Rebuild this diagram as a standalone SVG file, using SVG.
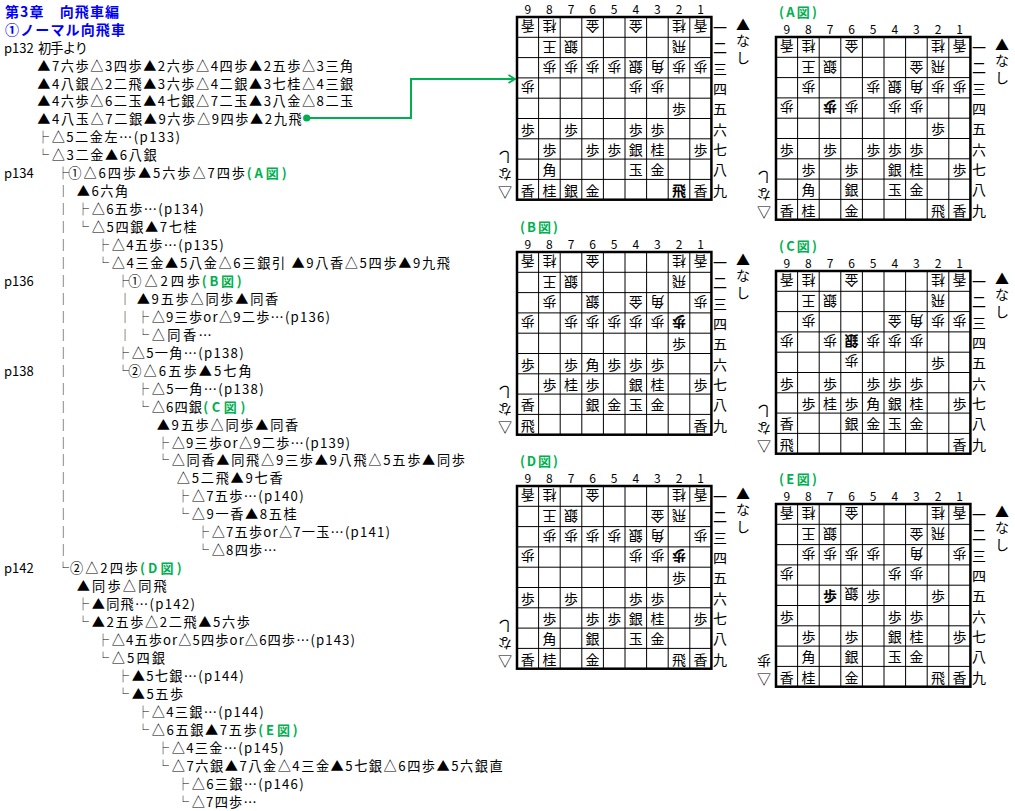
<svg xmlns="http://www.w3.org/2000/svg" xmlns:xlink="http://www.w3.org/1999/xlink" width="1015" height="811" viewBox="0 0 1015 811">
<style>
text{font-family:"Noto Sans CJK JP","Noto Sans CJK SC",sans-serif;fill:#000}
.t{font-size:13.2px}
.pg{font-size:13px}
.hd{font-size:14px;font-weight:bold;fill:#0000ff}
.gr{font-size:13px;font-weight:bold;fill:#00b050}
.tg{font-size:12px;text-anchor:middle}
.pc{font-size:14px;text-anchor:middle;dominant-baseline:central}
.bd{font-weight:bold}
.num{font-size:12px;text-anchor:middle}
.rl{font-size:14px;text-anchor:middle;dominant-baseline:central}
.grid{fill:none;stroke:#000;stroke-width:1}
.outer{fill:none;stroke:#000;stroke-width:2.5}
.conn{fill:none;stroke:#00b050;stroke-width:2}
</style>
<defs>
<g id="grid"><path class="grid" d="M21.6 0V182.7M43.2 0V182.7M64.8 0V182.7M86.4 0V182.7M108 0V182.7M129.6 0V182.7M151.2 0V182.7M172.8 0V182.7M0 20.3H194.4M0 40.6H194.4M0 60.9H194.4M0 81.2H194.4M0 101.5H194.4M0 121.8H194.4M0 142.1H194.4M0 162.4H194.4"/><rect class="outer" x="0" y="0" width="194.4" height="182.7"/></g>
<marker id="dot" markerWidth="8" markerHeight="8" refX="4" refY="4" markerUnits="userSpaceOnUse"><circle cx="4" cy="4" r="3.6" fill="#00b050"/></marker>
<marker id="arr" markerWidth="10" markerHeight="10" refX="8" refY="5" orient="auto" markerUnits="userSpaceOnUse"><path d="M1.5 1L8 5L1.5 9" fill="none" stroke="#00b050" stroke-width="1.8"/></marker>
</defs>
<rect width="1015" height="811" fill="#fff"/>

<g id="tree">
<g id="l0"><text class="hd" x="5" y="17" textLength="114" lengthAdjust="spacing">第3章　向飛車編</text></g>
<g id="l1"><text class="hd" x="5" y="35" textLength="120" lengthAdjust="spacing">①ノーマル向飛車</text></g>
<g id="l2"><text class="pg" x="4" y="52.6">p132</text><text class="t" x="38" y="52.6" textLength="50" lengthAdjust="spacing">初手より</text></g>
<g id="l3"><text class="t" x="37.3" y="70.55" textLength="316" lengthAdjust="spacing">▲7六歩△3四歩▲2六歩△4四歩▲2五歩△3三角</text></g>
<g id="l4"><text class="t" x="37.3" y="88.5" textLength="316" lengthAdjust="spacing">▲4八銀△2二飛▲3六歩△4二銀▲3七桂△4三銀</text></g>
<g id="l5"><text class="t" x="37.3" y="106.45" textLength="316" lengthAdjust="spacing">▲4六歩△6二玉▲4七銀△7二玉▲3八金△8二玉</text></g>
<g id="l6"><text class="t" x="37.3" y="124.4" textLength="264.4" lengthAdjust="spacing">▲4八玉△7二銀▲9六歩△9四歩▲2九飛</text></g>
<g id="l7"><text class="tg" x="42.9" y="142.35">├</text><text class="t" x="51.7" y="142.35" textLength="128.3" lengthAdjust="spacing">△5二金左…(p133)</text></g>
<g id="l8"><text class="tg" x="42.9" y="160.3">└</text><text class="t" x="51.7" y="160.3" textLength="105" lengthAdjust="spacing">△3二金▲6八銀</text></g>
<g id="l9"><text class="pg" x="4" y="178.25">p134</text><text class="tg" x="62.9" y="178.25">├</text><text class="t" x="68.3" y="178.25" textLength="176.7" lengthAdjust="spacing">①△6四歩▲5六歩△7四歩</text><text class="gr" x="246.7" y="178.25" textLength="40" lengthAdjust="spacing">(A図)</text></g>
<g id="l10"><text class="tg" x="63.3" y="196.2">│</text><text class="t" x="76.7" y="196.2" textLength="51.6" lengthAdjust="spacing">▲6六角</text></g>
<g id="l11"><text class="tg" x="63.3" y="214.15">│</text><text class="tg" x="82.9" y="214.15">├</text><text class="t" x="91.7" y="214.15" textLength="112" lengthAdjust="spacing">△6五歩…(p134)</text></g>
<g id="l12"><text class="tg" x="63.3" y="232.1">│</text><text class="tg" x="82.9" y="232.1">└</text><text class="t" x="91.7" y="232.1" textLength="105" lengthAdjust="spacing">△5四銀▲7七桂</text></g>
<g id="l13"><text class="tg" x="63.3" y="250.05">│</text><text class="tg" x="102.9" y="250.05">├</text><text class="t" x="111.7" y="250.05" textLength="112" lengthAdjust="spacing">△4五歩…(p135)</text></g>
<g id="l14"><text class="tg" x="63.3" y="268">│</text><text class="tg" x="102.9" y="268">└</text><text class="t" x="111.7" y="268" textLength="338.3" lengthAdjust="spacing">△4三金▲5八金△6三銀引 ▲9八香△5四歩▲9九飛</text></g>
<g id="l15"><text class="pg" x="4" y="285.95">p136</text><text class="tg" x="63.3" y="285.95">│</text><text class="tg" x="122.9" y="285.95">├</text><text class="t" x="128.3" y="285.95" textLength="71.7" lengthAdjust="spacing">①△2四歩</text><text class="gr" x="201.7" y="285.95" textLength="40" lengthAdjust="spacing">(B図)</text></g>
<g id="l16"><text class="tg" x="63.3" y="303.9">│</text><text class="tg" x="125" y="303.9">│</text><text class="t" x="136.7" y="303.9" textLength="141.6" lengthAdjust="spacing">▲9五歩△同歩▲同香</text></g>
<g id="l17"><text class="tg" x="63.3" y="321.85">│</text><text class="tg" x="125" y="321.85">│</text><text class="tg" x="142.9" y="321.85">├</text><text class="t" x="151.7" y="321.85" textLength="178.3" lengthAdjust="spacing">△9三歩or△9二歩…(p136)</text></g>
<g id="l18"><text class="tg" x="63.3" y="339.8">│</text><text class="tg" x="125" y="339.8">│</text><text class="tg" x="142.9" y="339.8">└</text><text class="t" x="151.7" y="339.8" textLength="60" lengthAdjust="spacing">△同香…</text></g>
<g id="l19"><text class="tg" x="63.3" y="357.75">│</text><text class="tg" x="122.9" y="357.75">├</text><text class="t" x="131.7" y="357.75" textLength="112" lengthAdjust="spacing">△5一角…(p138)</text></g>
<g id="l20"><text class="pg" x="4" y="375.7">p138</text><text class="tg" x="63.3" y="375.7">│</text><text class="tg" x="122.9" y="375.7">└</text><text class="t" x="128.3" y="375.7" textLength="123.4" lengthAdjust="spacing">②△6五歩▲5七角</text></g>
<g id="l21"><text class="tg" x="63.3" y="393.65">│</text><text class="tg" x="142.9" y="393.65">├</text><text class="t" x="151.7" y="393.65" textLength="112" lengthAdjust="spacing">△5一角…(p138)</text></g>
<g id="l22"><text class="tg" x="63.3" y="411.6">│</text><text class="tg" x="142.9" y="411.6">└</text><text class="t" x="151.7" y="411.6" textLength="50.3" lengthAdjust="spacing">△6四銀</text><text class="gr" x="203.3" y="411.6" textLength="42" lengthAdjust="spacing">(C図)</text></g>
<g id="l23"><text class="tg" x="63.3" y="429.55">│</text><text class="t" x="156.7" y="429.55" textLength="141.6" lengthAdjust="spacing">▲9五歩△同歩▲同香</text></g>
<g id="l24"><text class="tg" x="63.3" y="447.5">│</text><text class="tg" x="162.9" y="447.5">├</text><text class="t" x="171.7" y="447.5" textLength="178.3" lengthAdjust="spacing">△9三歩or△9二歩…(p139)</text></g>
<g id="l25"><text class="tg" x="63.3" y="465.45">│</text><text class="tg" x="162.9" y="465.45">└</text><text class="t" x="171.7" y="465.45" textLength="293.3" lengthAdjust="spacing">△同香▲同飛△9三歩▲9八飛△5五歩▲同歩</text></g>
<g id="l26"><text class="tg" x="63.3" y="483.4">│</text><text class="t" x="176.7" y="483.4" textLength="106" lengthAdjust="spacing">△5二飛▲9七香</text></g>
<g id="l27"><text class="tg" x="63.3" y="501.35">│</text><text class="tg" x="182.9" y="501.35">├</text><text class="t" x="191.7" y="501.35" textLength="112" lengthAdjust="spacing">△7五歩…(p140)</text></g>
<g id="l28"><text class="tg" x="63.3" y="519.3">│</text><text class="tg" x="182.9" y="519.3">└</text><text class="t" x="191.7" y="519.3" textLength="105" lengthAdjust="spacing">△9一香▲8五桂</text></g>
<g id="l29"><text class="tg" x="63.3" y="537.25">│</text><text class="tg" x="202.9" y="537.25">├</text><text class="t" x="211.7" y="537.25" textLength="178.3" lengthAdjust="spacing">△7五歩or△7一玉…(p141)</text></g>
<g id="l30"><text class="tg" x="63.3" y="555.2">│</text><text class="tg" x="202.9" y="555.2">└</text><text class="t" x="211.7" y="555.2" textLength="65" lengthAdjust="spacing">△8四歩…</text></g>
<g id="l31"><text class="pg" x="4" y="573.15">p142</text><text class="tg" x="62.9" y="573.15">└</text><text class="t" x="70" y="573.15" textLength="68" lengthAdjust="spacing">②△2四歩</text><text class="gr" x="140" y="573.15" textLength="41.7" lengthAdjust="spacing">(D図)</text></g>
<g id="l32"><text class="t" x="76.7" y="591.1" textLength="90" lengthAdjust="spacing">▲同歩△同飛</text></g>
<g id="l33"><text class="tg" x="82.9" y="609.05">├</text><text class="t" x="91.7" y="609.05" textLength="103.3" lengthAdjust="spacing">▲同飛…(p142)</text></g>
<g id="l34"><text class="tg" x="82.9" y="627">└</text><text class="t" x="91.7" y="627" textLength="158.3" lengthAdjust="spacing">▲2五歩△2二飛▲5六歩</text></g>
<g id="l35"><text class="tg" x="102.9" y="644.95">├</text><text class="t" x="111.7" y="644.95" textLength="243.3" lengthAdjust="spacing">△4五歩or△5四歩or△6四歩…(p143)</text></g>
<g id="l36"><text class="tg" x="102.9" y="662.9">└</text><text class="t" x="111.7" y="662.9" textLength="53.3" lengthAdjust="spacing">△5四銀</text></g>
<g id="l37"><text class="tg" x="122.9" y="680.85">├</text><text class="t" x="131.7" y="680.85" textLength="112" lengthAdjust="spacing">▲5七銀…(p144)</text></g>
<g id="l38"><text class="tg" x="122.9" y="698.8">└</text><text class="t" x="131.7" y="698.8" textLength="51.6" lengthAdjust="spacing">▲5五歩</text></g>
<g id="l39"><text class="tg" x="142.9" y="716.75">├</text><text class="t" x="151.7" y="716.75" textLength="112" lengthAdjust="spacing">△4三銀…(p144)</text></g>
<g id="l40"><text class="tg" x="142.9" y="734.7">└</text><text class="t" x="151.7" y="734.7" textLength="105" lengthAdjust="spacing">△6五銀▲7五歩</text><text class="gr" x="258.3" y="734.7" textLength="39.4" lengthAdjust="spacing">(E図)</text></g>
<g id="l41"><text class="tg" x="162.9" y="752.65">├</text><text class="t" x="171.7" y="752.65" textLength="112" lengthAdjust="spacing">△4三金…(p145)</text></g>
<g id="l42"><text class="tg" x="162.9" y="770.6">└</text><text class="t" x="171.7" y="770.6" textLength="331" lengthAdjust="spacing">△7六銀▲7八金△4三金▲5七銀△6四歩▲5六銀直</text></g>
<g id="l43"><text class="tg" x="182.9" y="788.55">├</text><text class="t" x="191.7" y="788.55" textLength="112" lengthAdjust="spacing">△6三銀…(p146)</text></g>
<g id="l44"><text class="tg" x="182.9" y="806.5">└</text><text class="t" x="191.7" y="806.5" textLength="65" lengthAdjust="spacing">△7四歩…</text></g>
</g>

<g id="connectors">
<path class="conn" d="M306.7 118H411V79H515" marker-start="url(#dot)" marker-end="url(#arr)"/>
</g>

<g id="board-main" transform="translate(517 17)">
<use xlink:href="#grid" href="#grid"/>
<text class="num" x="10.8 32.4 54 75.6 97.2 118.8 140.4 162 183.6" y="-3">987654321</text>
<text class="rl" x="203 203 203 203 203 203 203 203 203" y="10.15 30.45 50.75 71.05 91.35 111.65 131.95 152.25 172.55">一二三四五六七八九</text>
<text class="rl" x="226 226 226" y="7 23 40">▲なし</text>
<text class="rl" x="-12" y="174">▽</text><text class="rl" transform="translate(-12 158) rotate(180)">な</text><text class="rl" transform="translate(-12 141) rotate(180)">し</text>
<text class="pc" transform="translate(10.8 10.2) rotate(180)">香</text><text class="pc" transform="translate(32.4 10.2) rotate(180)">桂</text><text class="pc" transform="translate(75.6 10.2) rotate(180)">金</text><text class="pc" transform="translate(118.8 10.2) rotate(180)">金</text><text class="pc" transform="translate(162 10.2) rotate(180)">桂</text><text class="pc" transform="translate(183.6 10.2) rotate(180)">香</text>
<text class="pc" transform="translate(32.4 30.5) rotate(180)">王</text><text class="pc" transform="translate(54 30.5) rotate(180)">銀</text><text class="pc" transform="translate(162 30.5) rotate(180)">飛</text>
<text class="pc" transform="translate(32.4 50.8) rotate(180)">歩</text><text class="pc" transform="translate(54 50.8) rotate(180)">歩</text><text class="pc" transform="translate(75.6 50.8) rotate(180)">歩</text><text class="pc" transform="translate(97.2 50.8) rotate(180)">歩</text><text class="pc" transform="translate(118.8 50.8) rotate(180)">銀</text><text class="pc" transform="translate(140.4 50.8) rotate(180)">角</text><text class="pc" transform="translate(162 50.8) rotate(180)">歩</text><text class="pc" transform="translate(183.6 50.8) rotate(180)">歩</text>
<text class="pc" transform="translate(10.8 71.1) rotate(180)">歩</text><text class="pc" transform="translate(118.8 71.1) rotate(180)">歩</text><text class="pc" transform="translate(140.4 71.1) rotate(180)">歩</text>
<text class="pc" x="162" y="91.4">歩</text>
<text class="pc" x="10.8" y="111.7">歩</text><text class="pc" x="54" y="111.7">歩</text><text class="pc" x="118.8" y="111.7">歩</text><text class="pc" x="140.4" y="111.7">歩</text>
<text class="pc" x="32.4" y="132">歩</text><text class="pc" x="75.6" y="132">歩</text><text class="pc" x="97.2" y="132">歩</text><text class="pc" x="118.8" y="132">銀</text><text class="pc" x="140.4" y="132">桂</text><text class="pc" x="183.6" y="132">歩</text>
<text class="pc" x="32.4" y="152.3">角</text><text class="pc" x="118.8" y="152.3">玉</text><text class="pc" x="140.4" y="152.3">金</text>
<text class="pc" x="10.8" y="172.6">香</text><text class="pc" x="32.4" y="172.6">桂</text><text class="pc" x="54" y="172.6">銀</text><text class="pc" x="75.6" y="172.6">金</text><text class="pc bd" x="162" y="172.6">飛</text><text class="pc" x="183.6" y="172.6">香</text>
</g>

<g id="board-A" transform="translate(776 37)">
<text class="gr" x="3" y="-20" textLength="38" lengthAdjust="spacing">(A図)</text>
<use xlink:href="#grid" href="#grid"/>
<text class="num" x="10.8 32.4 54 75.6 97.2 118.8 140.4 162 183.6" y="-3">987654321</text>
<text class="rl" x="203 203 203 203 203 203 203 203 203" y="10.15 30.45 50.75 71.05 91.35 111.65 131.95 152.25 172.55">一二三四五六七八九</text>
<text class="rl" x="226 226 226" y="7 23 40">▲なし</text>
<text class="rl" x="-12" y="174">▽</text><text class="rl" transform="translate(-12 158) rotate(180)">な</text><text class="rl" transform="translate(-12 141) rotate(180)">し</text>
<text class="pc" transform="translate(10.8 10.2) rotate(180)">香</text><text class="pc" transform="translate(32.4 10.2) rotate(180)">桂</text><text class="pc" transform="translate(75.6 10.2) rotate(180)">金</text><text class="pc" transform="translate(162 10.2) rotate(180)">桂</text><text class="pc" transform="translate(183.6 10.2) rotate(180)">香</text>
<text class="pc" transform="translate(32.4 30.5) rotate(180)">王</text><text class="pc" transform="translate(54 30.5) rotate(180)">銀</text><text class="pc" transform="translate(140.4 30.5) rotate(180)">金</text><text class="pc" transform="translate(162 30.5) rotate(180)">飛</text>
<text class="pc" transform="translate(32.4 50.8) rotate(180)">歩</text><text class="pc" transform="translate(97.2 50.8) rotate(180)">歩</text><text class="pc" transform="translate(118.8 50.8) rotate(180)">銀</text><text class="pc" transform="translate(140.4 50.8) rotate(180)">角</text><text class="pc" transform="translate(162 50.8) rotate(180)">歩</text><text class="pc" transform="translate(183.6 50.8) rotate(180)">歩</text>
<text class="pc" transform="translate(10.8 71.1) rotate(180)">歩</text><text class="pc bd" transform="translate(54 71.1) rotate(180)">歩</text><text class="pc" transform="translate(75.6 71.1) rotate(180)">歩</text><text class="pc" transform="translate(118.8 71.1) rotate(180)">歩</text><text class="pc" transform="translate(140.4 71.1) rotate(180)">歩</text>
<text class="pc" x="162" y="91.4">歩</text>
<text class="pc" x="10.8" y="111.7">歩</text><text class="pc" x="54" y="111.7">歩</text><text class="pc" x="97.2" y="111.7">歩</text><text class="pc" x="118.8" y="111.7">歩</text><text class="pc" x="140.4" y="111.7">歩</text>
<text class="pc" x="32.4" y="132">歩</text><text class="pc" x="75.6" y="132">歩</text><text class="pc" x="118.8" y="132">銀</text><text class="pc" x="140.4" y="132">桂</text><text class="pc" x="183.6" y="132">歩</text>
<text class="pc" x="32.4" y="152.3">角</text><text class="pc" x="75.6" y="152.3">銀</text><text class="pc" x="118.8" y="152.3">玉</text><text class="pc" x="140.4" y="152.3">金</text>
<text class="pc" x="10.8" y="172.6">香</text><text class="pc" x="32.4" y="172.6">桂</text><text class="pc" x="75.6" y="172.6">金</text><text class="pc" x="162" y="172.6">飛</text><text class="pc" x="183.6" y="172.6">香</text>
</g>

<g id="board-B" transform="translate(517 252)">
<text class="gr" x="3" y="-20" textLength="38" lengthAdjust="spacing">(B図)</text>
<use xlink:href="#grid" href="#grid"/>
<text class="num" x="10.8 32.4 54 75.6 97.2 118.8 140.4 162 183.6" y="-3">987654321</text>
<text class="rl" x="203 203 203 203 203 203 203 203 203" y="10.15 30.45 50.75 71.05 91.35 111.65 131.95 152.25 172.55">一二三四五六七八九</text>
<text class="rl" x="226 226 226" y="7 23 40">▲なし</text>
<text class="rl" x="-12" y="174">▽</text><text class="rl" transform="translate(-12 158) rotate(180)">な</text><text class="rl" transform="translate(-12 141) rotate(180)">し</text>
<text class="pc" transform="translate(10.8 10.2) rotate(180)">香</text><text class="pc" transform="translate(32.4 10.2) rotate(180)">桂</text><text class="pc" transform="translate(75.6 10.2) rotate(180)">金</text><text class="pc" transform="translate(162 10.2) rotate(180)">桂</text><text class="pc" transform="translate(183.6 10.2) rotate(180)">香</text>
<text class="pc" transform="translate(32.4 30.5) rotate(180)">王</text><text class="pc" transform="translate(54 30.5) rotate(180)">銀</text><text class="pc" transform="translate(162 30.5) rotate(180)">飛</text>
<text class="pc" transform="translate(32.4 50.8) rotate(180)">歩</text><text class="pc" transform="translate(75.6 50.8) rotate(180)">銀</text><text class="pc" transform="translate(118.8 50.8) rotate(180)">金</text><text class="pc" transform="translate(140.4 50.8) rotate(180)">角</text><text class="pc" transform="translate(183.6 50.8) rotate(180)">歩</text>
<text class="pc" transform="translate(10.8 71.1) rotate(180)">歩</text><text class="pc" transform="translate(54 71.1) rotate(180)">歩</text><text class="pc" transform="translate(75.6 71.1) rotate(180)">歩</text><text class="pc" transform="translate(97.2 71.1) rotate(180)">歩</text><text class="pc" transform="translate(118.8 71.1) rotate(180)">歩</text><text class="pc" transform="translate(140.4 71.1) rotate(180)">歩</text><text class="pc bd" transform="translate(162 71.1) rotate(180)">歩</text>
<text class="pc" x="162" y="91.4">歩</text>
<text class="pc" x="10.8" y="111.7">歩</text><text class="pc" x="54" y="111.7">歩</text><text class="pc" x="75.6" y="111.7">角</text><text class="pc" x="97.2" y="111.7">歩</text><text class="pc" x="118.8" y="111.7">歩</text><text class="pc" x="140.4" y="111.7">歩</text>
<text class="pc" x="32.4" y="132">歩</text><text class="pc" x="54" y="132">桂</text><text class="pc" x="75.6" y="132">歩</text><text class="pc" x="118.8" y="132">銀</text><text class="pc" x="140.4" y="132">桂</text><text class="pc" x="183.6" y="132">歩</text>
<text class="pc" x="10.8" y="152.3">香</text><text class="pc" x="75.6" y="152.3">銀</text><text class="pc" x="97.2" y="152.3">金</text><text class="pc" x="118.8" y="152.3">玉</text><text class="pc" x="140.4" y="152.3">金</text>
<text class="pc" x="10.8" y="172.6">飛</text><text class="pc" x="183.6" y="172.6">香</text>
</g>

<g id="board-C" transform="translate(776 271)">
<text class="gr" x="3" y="-20" textLength="38" lengthAdjust="spacing">(C図)</text>
<use xlink:href="#grid" href="#grid"/>
<text class="num" x="10.8 32.4 54 75.6 97.2 118.8 140.4 162 183.6" y="-3">987654321</text>
<text class="rl" x="203 203 203 203 203 203 203 203 203" y="10.15 30.45 50.75 71.05 91.35 111.65 131.95 152.25 172.55">一二三四五六七八九</text>
<text class="rl" x="226 226 226" y="7 23 40">▲なし</text>
<text class="rl" x="-12" y="174">▽</text><text class="rl" transform="translate(-12 158) rotate(180)">な</text><text class="rl" transform="translate(-12 141) rotate(180)">し</text>
<text class="pc" transform="translate(10.8 10.2) rotate(180)">香</text><text class="pc" transform="translate(32.4 10.2) rotate(180)">桂</text><text class="pc" transform="translate(75.6 10.2) rotate(180)">金</text><text class="pc" transform="translate(162 10.2) rotate(180)">桂</text><text class="pc" transform="translate(183.6 10.2) rotate(180)">香</text>
<text class="pc" transform="translate(32.4 30.5) rotate(180)">王</text><text class="pc" transform="translate(54 30.5) rotate(180)">銀</text><text class="pc" transform="translate(162 30.5) rotate(180)">飛</text>
<text class="pc" transform="translate(32.4 50.8) rotate(180)">歩</text><text class="pc" transform="translate(118.8 50.8) rotate(180)">金</text><text class="pc" transform="translate(140.4 50.8) rotate(180)">角</text><text class="pc" transform="translate(162 50.8) rotate(180)">歩</text><text class="pc" transform="translate(183.6 50.8) rotate(180)">歩</text>
<text class="pc" transform="translate(10.8 71.1) rotate(180)">歩</text><text class="pc" transform="translate(54 71.1) rotate(180)">歩</text><text class="pc bd" transform="translate(75.6 71.1) rotate(180)">銀</text><text class="pc" transform="translate(97.2 71.1) rotate(180)">歩</text><text class="pc" transform="translate(118.8 71.1) rotate(180)">歩</text><text class="pc" transform="translate(140.4 71.1) rotate(180)">歩</text>
<text class="pc" transform="translate(75.6 91.4) rotate(180)">歩</text>
<text class="pc" x="162" y="91.4">歩</text>
<text class="pc" x="10.8" y="111.7">歩</text><text class="pc" x="54" y="111.7">歩</text><text class="pc" x="97.2" y="111.7">歩</text><text class="pc" x="118.8" y="111.7">歩</text><text class="pc" x="140.4" y="111.7">歩</text>
<text class="pc" x="32.4" y="132">歩</text><text class="pc" x="54" y="132">桂</text><text class="pc" x="75.6" y="132">歩</text><text class="pc" x="97.2" y="132">角</text><text class="pc" x="118.8" y="132">銀</text><text class="pc" x="140.4" y="132">桂</text><text class="pc" x="183.6" y="132">歩</text>
<text class="pc" x="10.8" y="152.3">香</text><text class="pc" x="75.6" y="152.3">銀</text><text class="pc" x="97.2" y="152.3">金</text><text class="pc" x="118.8" y="152.3">玉</text><text class="pc" x="140.4" y="152.3">金</text>
<text class="pc" x="10.8" y="172.6">飛</text><text class="pc" x="183.6" y="172.6">香</text>
</g>

<g id="board-D" transform="translate(517 486)">
<text class="gr" x="3" y="-20" textLength="38" lengthAdjust="spacing">(D図)</text>
<use xlink:href="#grid" href="#grid"/>
<text class="num" x="10.8 32.4 54 75.6 97.2 118.8 140.4 162 183.6" y="-3">987654321</text>
<text class="rl" x="203 203 203 203 203 203 203 203 203" y="10.15 30.45 50.75 71.05 91.35 111.65 131.95 152.25 172.55">一二三四五六七八九</text>
<text class="rl" x="226 226 226" y="7 23 40">▲なし</text>
<text class="rl" x="-12" y="174">▽</text><text class="rl" transform="translate(-12 158) rotate(180)">な</text><text class="rl" transform="translate(-12 141) rotate(180)">し</text>
<text class="pc" transform="translate(10.8 10.2) rotate(180)">香</text><text class="pc" transform="translate(32.4 10.2) rotate(180)">桂</text><text class="pc" transform="translate(75.6 10.2) rotate(180)">金</text><text class="pc" transform="translate(162 10.2) rotate(180)">桂</text><text class="pc" transform="translate(183.6 10.2) rotate(180)">香</text>
<text class="pc" transform="translate(32.4 30.5) rotate(180)">王</text><text class="pc" transform="translate(54 30.5) rotate(180)">銀</text><text class="pc" transform="translate(140.4 30.5) rotate(180)">金</text><text class="pc" transform="translate(162 30.5) rotate(180)">飛</text>
<text class="pc" transform="translate(32.4 50.8) rotate(180)">歩</text><text class="pc" transform="translate(54 50.8) rotate(180)">歩</text><text class="pc" transform="translate(75.6 50.8) rotate(180)">歩</text><text class="pc" transform="translate(97.2 50.8) rotate(180)">歩</text><text class="pc" transform="translate(118.8 50.8) rotate(180)">銀</text><text class="pc" transform="translate(140.4 50.8) rotate(180)">角</text><text class="pc" transform="translate(183.6 50.8) rotate(180)">歩</text>
<text class="pc" transform="translate(10.8 71.1) rotate(180)">歩</text><text class="pc" transform="translate(118.8 71.1) rotate(180)">歩</text><text class="pc" transform="translate(140.4 71.1) rotate(180)">歩</text><text class="pc bd" transform="translate(162 71.1) rotate(180)">歩</text>
<text class="pc" x="162" y="91.4">歩</text>
<text class="pc" x="10.8" y="111.7">歩</text><text class="pc" x="54" y="111.7">歩</text><text class="pc" x="118.8" y="111.7">歩</text><text class="pc" x="140.4" y="111.7">歩</text>
<text class="pc" x="32.4" y="132">歩</text><text class="pc" x="75.6" y="132">歩</text><text class="pc" x="97.2" y="132">歩</text><text class="pc" x="118.8" y="132">銀</text><text class="pc" x="140.4" y="132">桂</text><text class="pc" x="183.6" y="132">歩</text>
<text class="pc" x="32.4" y="152.3">角</text><text class="pc" x="75.6" y="152.3">銀</text><text class="pc" x="118.8" y="152.3">玉</text><text class="pc" x="140.4" y="152.3">金</text>
<text class="pc" x="10.8" y="172.6">香</text><text class="pc" x="32.4" y="172.6">桂</text><text class="pc" x="75.6" y="172.6">金</text><text class="pc" x="162" y="172.6">飛</text><text class="pc" x="183.6" y="172.6">香</text>
</g>

<g id="board-E" transform="translate(776 504)">
<text class="gr" x="3" y="-20" textLength="38" lengthAdjust="spacing">(E図)</text>
<use xlink:href="#grid" href="#grid"/>
<text class="num" x="10.8 32.4 54 75.6 97.2 118.8 140.4 162 183.6" y="-3">987654321</text>
<text class="rl" x="203 203 203 203 203 203 203 203 203" y="10.15 30.45 50.75 71.05 91.35 111.65 131.95 152.25 172.55">一二三四五六七八九</text>
<text class="rl" x="226 226 226" y="7 23 40">▲なし</text>
<text class="rl" x="-12" y="174">▽</text><text class="rl" transform="translate(-12 158) rotate(180)">歩</text>
<text class="pc" transform="translate(10.8 10.2) rotate(180)">香</text><text class="pc" transform="translate(32.4 10.2) rotate(180)">桂</text><text class="pc" transform="translate(75.6 10.2) rotate(180)">金</text><text class="pc" transform="translate(162 10.2) rotate(180)">桂</text><text class="pc" transform="translate(183.6 10.2) rotate(180)">香</text>
<text class="pc" transform="translate(32.4 30.5) rotate(180)">王</text><text class="pc" transform="translate(54 30.5) rotate(180)">銀</text><text class="pc" transform="translate(140.4 30.5) rotate(180)">金</text><text class="pc" transform="translate(162 30.5) rotate(180)">飛</text>
<text class="pc" transform="translate(32.4 50.8) rotate(180)">歩</text><text class="pc" transform="translate(54 50.8) rotate(180)">歩</text><text class="pc" transform="translate(75.6 50.8) rotate(180)">歩</text><text class="pc" transform="translate(97.2 50.8) rotate(180)">歩</text><text class="pc" transform="translate(140.4 50.8) rotate(180)">角</text><text class="pc" transform="translate(183.6 50.8) rotate(180)">歩</text>
<text class="pc" transform="translate(10.8 71.1) rotate(180)">歩</text><text class="pc" transform="translate(118.8 71.1) rotate(180)">歩</text><text class="pc" transform="translate(140.4 71.1) rotate(180)">歩</text>
<text class="pc" transform="translate(75.6 91.4) rotate(180)">銀</text>
<text class="pc bd" x="54" y="91.4">歩</text><text class="pc" x="97.2" y="91.4">歩</text><text class="pc" x="162" y="91.4">歩</text>
<text class="pc" x="10.8" y="111.7">歩</text><text class="pc" x="118.8" y="111.7">歩</text><text class="pc" x="140.4" y="111.7">歩</text>
<text class="pc" x="32.4" y="132">歩</text><text class="pc" x="75.6" y="132">歩</text><text class="pc" x="118.8" y="132">銀</text><text class="pc" x="140.4" y="132">桂</text><text class="pc" x="183.6" y="132">歩</text>
<text class="pc" x="32.4" y="152.3">角</text><text class="pc" x="75.6" y="152.3">銀</text><text class="pc" x="118.8" y="152.3">玉</text><text class="pc" x="140.4" y="152.3">金</text>
<text class="pc" x="10.8" y="172.6">香</text><text class="pc" x="32.4" y="172.6">桂</text><text class="pc" x="75.6" y="172.6">金</text><text class="pc" x="162" y="172.6">飛</text><text class="pc" x="183.6" y="172.6">香</text>
</g>
</svg>
